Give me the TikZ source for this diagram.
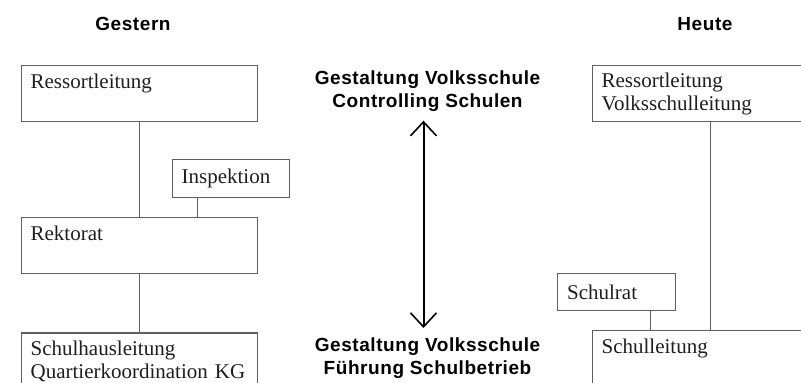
\documentclass[tikz,border=0pt]{standalone}
\usepackage{fontspec}
\setmainfont{Liberation Serif}
\newfontfamily\headfont[LetterSpace=3]{Liberation Sans}
\usetikzlibrary{positioning, arrows.meta}
\definecolor{boxgray}{RGB}{95,95,95}
\definecolor{inkblack}{RGB}{30,30,30}

\begin{document}
\begin{tikzpicture}[x=1pt, y=-1pt,
		box/.style={draw=boxgray, line width=1.2pt, anchor=north west, minimum width=236pt, text width=218pt,
			inner xsep=9pt, align=left, text=inkblack, font=\fontsize{21}{23}\selectfont},
		onebox/.style={box, text height=19pt, text depth=29pt, inner ysep=4pt},
		twobox/.style={box, minimum height=56pt},
		smallbox/.style={box, minimum width=117pt, text width=99pt, minimum height=38pt},
		head/.style={font=\headfont\bfseries\fontsize{19}{22.5}\selectfont, align=center, inner sep=0pt, text=black},
		link/.style={draw=boxgray, line width=1.2pt},
		dblarrow/.style={line width=2pt, {Straight Barb[length=14pt, width=26pt, line width=1.6pt]}-{Straight Barb[length=14pt, width=26pt, line width=1.6pt]}}]
	\useasboundingbox (0,0) rectangle (801,383);
	\clip (0,0) rectangle (801,383);
	% Gestern
	\node[head, anchor=base] (gestern) at (133,30) {Gestern};
	\node[onebox] (ressL) at (21,65) {Ressortleitung};
	\node[smallbox] (insp) at (172,159) {Inspektion};
	\node[onebox, below=95pt of ressL] (rekt) {Rektorat};
	\node[twobox, below=58pt of rekt] (schulh) {Schulhausleitung\\Quartierkoordination KG};
	\draw[link] (ressL.south) -- (rekt.north);
	\draw[link] ([xshift=-33.5pt]insp.south) -- ([xshift=-33.5pt]insp.south |- rekt.north);
	\draw[link] (rekt.south) -- (schulh.north);
	% Mitte
	\node[head, anchor=north] (gvo) at (427.5,71) {Gestaltung Volksschule\\Controlling Schulen};
	\node[head, anchor=north] (gvu) at (427.5,338) {Gestaltung Volksschule\\F\"uhrung Schulbetrieb};
	\draw[dblarrow, shorten <=9pt, shorten >=10pt] ([xshift=-4pt]gvo.south) -- ([xshift=-4pt]gvu.north);
	% Heute
	\node[head, anchor=base] (heute) at (705,30) {Heute};
	\node[twobox] (ressR) at (592,65) {Ressortleitung\\Volksschulleitung};
	\node[smallbox, minimum width=118pt, minimum height=37pt] (schulrat) at (557,273) {Schulrat};
	\node[onebox, below=208pt of ressR] (schull) {Schulleitung};
	\draw[link] (ressR.south) -- (schull.north);
	\draw[link] ([xshift=34pt]schulrat.south) -- ([xshift=34pt]schulrat.south |- schull.north);
\end{tikzpicture}
\end{document}
